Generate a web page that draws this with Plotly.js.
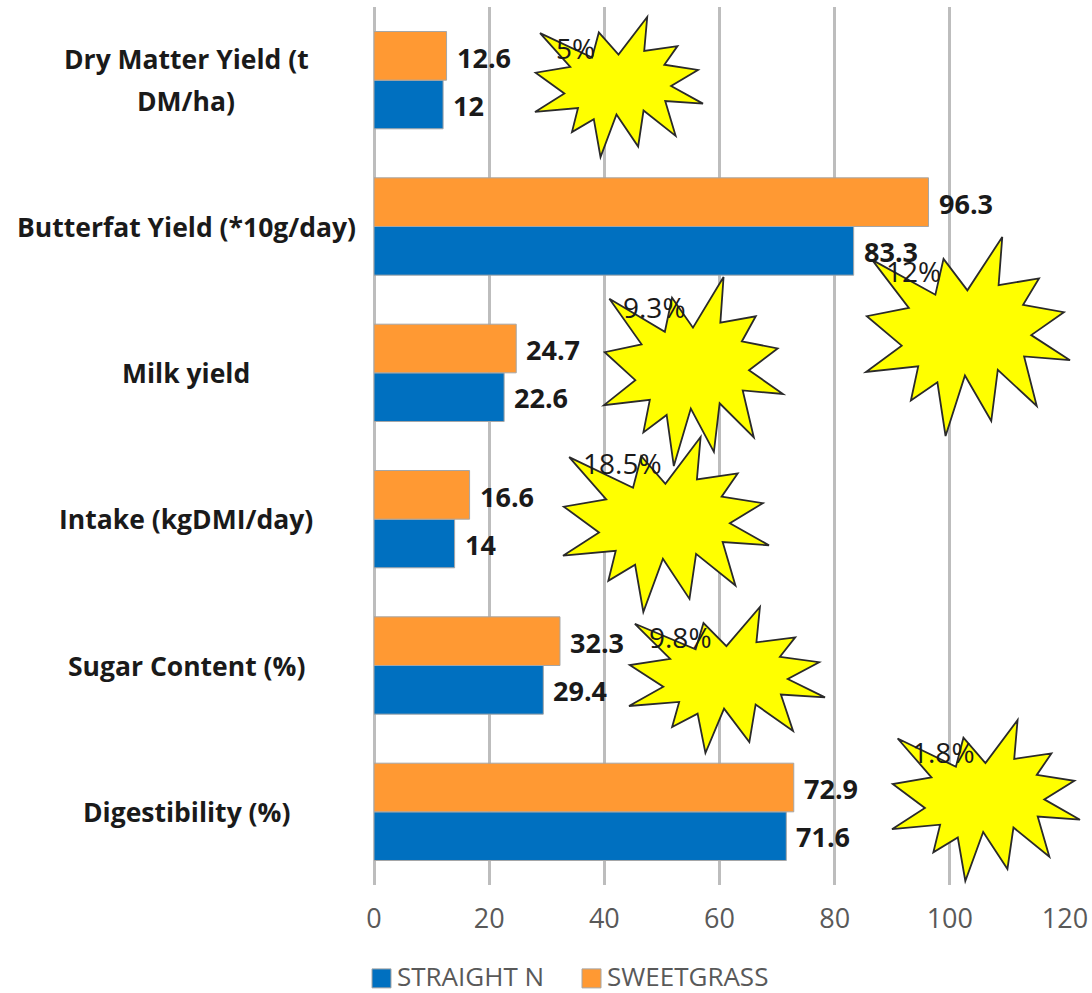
<!DOCTYPE html>
<html>
<head>
<meta charset="utf-8">
<script src="https://cdn.plot.ly/plotly-3.0.1.min.js"></script>
<style>html,body{margin:0;padding:0;background:#fff}#chart{width:1092px;height:993px}</style>
</head>
<body>
<div id="chart"></div>
<script>
// Series, listed bottom-up as the category axis draws them
const categories = ["Digestibility (%)", "Sugar Content (%)", "Intake (kgDMI/day)", "Milk yield", "Butterfat Yield (*10g/day)", "Dry Matter Yield (t<br>DM/ha)"];
const straightN = [71.6, 29.4, 14, 22.6, 83.3, 12];
const sweetgrass = [72.9, 32.3, 16.6, 24.7, 96.3, 12.6];
const gainLabels = ["1.8%", "9.8%", "18.5%", "9.3%", "12%", "5%"];
const tickValues = [0, 20, 40, 60, 80, 100, 120];

// Page geometry of the plot area, in pixels
const W = 1092, H = 993;
const M = {l: 374, r: 27, t: 7, b: 108};
const plotW = W - M.l - M.r, plotH = H - M.t - M.b;
const fx = px => (px - M.l) / plotW;
const fy = py => 1 - (py - M.t) / plotH;

// Outline of one starburst, normalised to its bounding box
const burst = [[.03,.115],[.34,.29],[.38,.11],[.497,.268],[.668,0],[.65,.242],[.848,.208],[.77,.341],
  [.97,.378],[.81,.493],[1,.619],[.775,.60],[.837,.849],[.646,.668],[.614,.925],[.485,.696],
  [.39,1],[.35,.73],[.22,.822],[.256,.65],[0,.678],[.175,.546],[.004,.398],[.21,.356]];
// Where each burst sits and where its percentage is written: [left, top, right, bottom, textX, textY]
const burstPlacement = [
  [892, 720, 1080, 881, 943, 752],
  [629, 607, 825, 753, 680, 637],
  [563, 437, 769, 612, 622, 463],
  [604, 277, 783, 466, 654, 307],
  [866, 237, 1070, 436, 913, 271],
  [535, 17, 703, 157, 575, 48]
];
const drawOrder = [4, 5, 3, 2, 1, 0];

const valueFont = {family: "Open Sans", size: 27, color: "#1a1a1a", weight: 700};
const categoryFont = {family: "Open Sans", size: 26.5, color: "#1a1a1a", weight: 700};
const gainFont = {family: "Open Sans", size: 28, color: "#1a1a1a"};
const axisFont = {family: "Open Sans", size: 27, color: "#595959"};
const legendFont = {family: "Open Sans", size: 26, color: "#595959"};

const shapes = drawOrder.map(i => {
  const [x0, y0, x1, y1] = burstPlacement[i];
  const d = burst.map((p, k) => (k ? "L" : "M") + fx(x0 + p[0] * (x1 - x0)).toFixed(5) + "," + fy(y0 + p[1] * (y1 - y0)).toFixed(5)).join("") + "Z";
  return {type: "path", xref: "paper", yref: "paper", path: d, fillcolor: "#ffff00", line: {color: "#2a2a2a", width: 1.8}, layer: "above"};
});

const annotations = [];
categories.forEach((c, i) => {
  // Wrapped category names are written line by line so the leading can be set
  const lines = c.split("<br>");
  lines.forEach((line, k) => {
    annotations.push({xref: "paper", yref: "y", x: fx(186), y: c, text: line, showarrow: false,
      xanchor: "center", yshift: (lines.length - 1 - 2 * k) * 21, font: categoryFont});
  });
  [[sweetgrass, -1], [straightN, 1]].forEach(([series, side]) => {
    annotations.push({xref: "x", yref: "y", x: series[i], y: c, text: String(series[i]), showarrow: false,
      xanchor: "left", xshift: 8, yshift: -side * 24 - 1, font: valueFont});
  });
  annotations.push({xref: "paper", yref: "paper", x: fx(burstPlacement[i][4]), y: fy(burstPlacement[i][5]),
    text: gainLabels[i], showarrow: false, xanchor: "center", yanchor: "middle", font: gainFont});
});

const barStyle = color => ({color: color, line: {color: "#a6a6a6", width: 1}});
const traces = [
  {type: "bar", orientation: "h", name: "STRAIGHT N", y: categories, x: straightN, marker: barStyle("#0070c0")},
  {type: "bar", orientation: "h", name: "SWEETGRASS", y: categories, x: sweetgrass, marker: barStyle("#ff9933")}
];

const layout = {
  width: W, height: H, margin: M, paper_bgcolor: "#fff", plot_bgcolor: "#fff",
  barmode: "group", bargap: 0.335, bargroupgap: 0,
  font: {family: "Open Sans", color: "#595959"},
  xaxis: {range: [0, 120], tickmode: "array", tickvals: tickValues, showgrid: true, gridcolor: "#bdbdbd", gridwidth: 3,
    zeroline: true, zerolinecolor: "#bdbdbd", zerolinewidth: 3, showline: false, ticks: "outside", ticklen: 10, tickcolor: "rgba(0,0,0,0)",
    tickfont: axisFont, automargin: false},
  yaxis: {type: "category", categoryorder: "array", categoryarray: categories, showticklabels: false, showgrid: false, zeroline: false, showline: false, ticks: ""},
  legend: {orientation: "h", xref: "container", yref: "container", x: 357 / W, xanchor: "left", y: 1 - 952 / H, yanchor: "top", traceorder: "normal",
    entrywidthmode: "pixels", entrywidth: 165, font: legendFont, itemclick: false, itemdoubleclick: false},
  showlegend: true, shapes, annotations
};

Plotly.newPlot("chart", traces, layout, {displayModeBar: false, staticPlot: true}).then(gd => {
  // Widen the legend swatches and sit them right beside their text
  gd.querySelectorAll(".legendpoints path").forEach(p => {
    p.setAttribute("d", "M9.5,9.5H-9.5V-9.5H9.5Z");
    p.setAttribute("transform", "translate(24.5,3)");
  });
});
</script>
</body>
</html>
